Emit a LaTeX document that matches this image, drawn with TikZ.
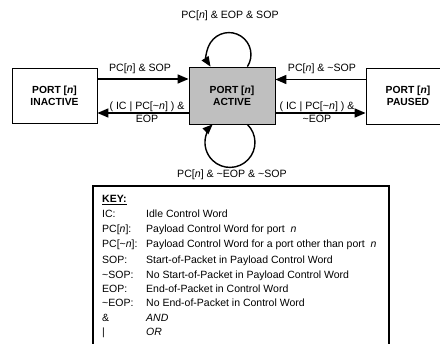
\documentclass[tikz,border=0pt]{standalone}
\usepackage{fontspec}
\setmainfont{Liberation Sans}
\usetikzlibrary{arrows.meta}
\newcommand{\tld}{\textasciitilde}
\begin{document}
\begin{tikzpicture}[x=1pt,y=-1pt,
  box/.style={draw,line width=0.8pt,minimum width=85pt,minimum height=55pt,align=center,
    font=\fontsize{10.3}{12}\selectfont\bfseries,inner sep=0pt},
  arr/.style={line width=1.6pt,-{Triangle[length=11pt,width=9pt]}},
  looparr/.style={line width=1.4pt,-{Triangle[length=10pt,width=8pt]}},
  lbl/.style={font=\fontsize{10.6}{13}\selectfont,align=center,inner sep=0pt},
  keyt/.style={font=\fontsize{10.5}{12}\selectfont,anchor=base west,inner sep=0pt}]
\useasboundingbox (0,0) rectangle (440,344);
\clip (0,0) rectangle (440,344);
% states
\node[box] (inactive) at (54.5,95.5) {PORT [\textit{n}]\\INACTIVE};
\node[box,fill=black!25,minimum width=86pt,minimum height=57pt] (active) at (232,95.5) {PORT [\textit{n}]\\ACTIVE};
\node[box,minimum width=84pt,minimum height=56pt] (paused) at (408,96) {PORT [\textit{n}]\\PAUSED};
% straight transitions
\draw[arr] ([yshift=16.5pt]inactive.east) -- ([yshift=16.5pt]inactive.east -| active.west);
\draw[arr] ([yshift=-17.5pt]active.west) -- ([yshift=-17.5pt]active.west -| inactive.east);
\draw[arr] ([yshift=16.5pt]paused.west) -- ([yshift=16.5pt]paused.west -| active.east);
\draw[arr] ([yshift=-17.5pt]active.east) -- ([yshift=-17.5pt]active.east -| paused.west);
% self loops
\draw[looparr] ([xshift=15.4pt]active.north) arc[start angle=33.1, end angle=-213.1, radius=22];
\draw[looparr] ([xshift=15.3pt]active.south) arc[start angle=-46.1, end angle=226.1, radius=25];
% labels
\node[lbl] (ltop) at (230,16) {PC[\textit{n}] \& EOP \& SOP};
\node[lbl] (lbot) at (232,175) {PC[\textit{n}] \& \tld EOP \& \tld SOP};
\node[lbl] (l1) at (140,69) {PC[\textit{n}] \& SOP};
\node[lbl] (l2) at (147,112.5) {( IC | PC[\tld\textit{n}] ) \&\\EOP};
\node[lbl] (l3) at (322,69) {PC[\textit{n}] \& \tld SOP};
\node[lbl] (l4) at (317,112.5) {( IC | PC[\tld\textit{n}] ) \&\\\tld EOP};
% key
\draw[line width=1.6pt] (93,186) rectangle (389,360);
\node[keyt] (kh) at (102,202.5) {\bfseries\underline{KEY:}};
\node[keyt] (k1a) at (102,217.5) {IC:};
\node[keyt] (k1b) at (146,217.5) {Idle Control Word};
\node[keyt] (k2a) at (102,233) {PC[\textit{n}]:};
\node[keyt] (k2b) at (146,233) {Payload Control Word for port \ \textit{n}};
\node[keyt] (k3a) at (102,248) {PC[\tld\textit{n}]:};
\node[keyt] (k3b) at (146,248) {Payload Control Word for a port other than port \ \textit{n}};
\node[keyt] (k4a) at (102,263.5) {SOP:};
\node[keyt] (k4b) at (146,263.5) {Start-of-Packet in Payload Control Word};
\node[keyt] (k5a) at (102,278.5) {\tld SOP:};
\node[keyt] (k5b) at (146,278.5) {No Start-of-Packet in Payload Control Word};
\node[keyt] (k6a) at (102,292.5) {EOP:};
\node[keyt] (k6b) at (146,292.5) {End-of-Packet in Control Word};
\node[keyt] (k7a) at (102,307) {\tld EOP:};
\node[keyt] (k7b) at (146,307) {No End-of-Packet in Control Word};
\node[keyt] (k8a) at (102,321.5) {\&};
\node[keyt] (k8b) at (146,321.5) {\textit{AND}};
\node[keyt] (k9a) at (102,335.5) {|};
\node[keyt] (k9b) at (146,335.5) {\textit{OR}};
\end{tikzpicture}
\end{document}
